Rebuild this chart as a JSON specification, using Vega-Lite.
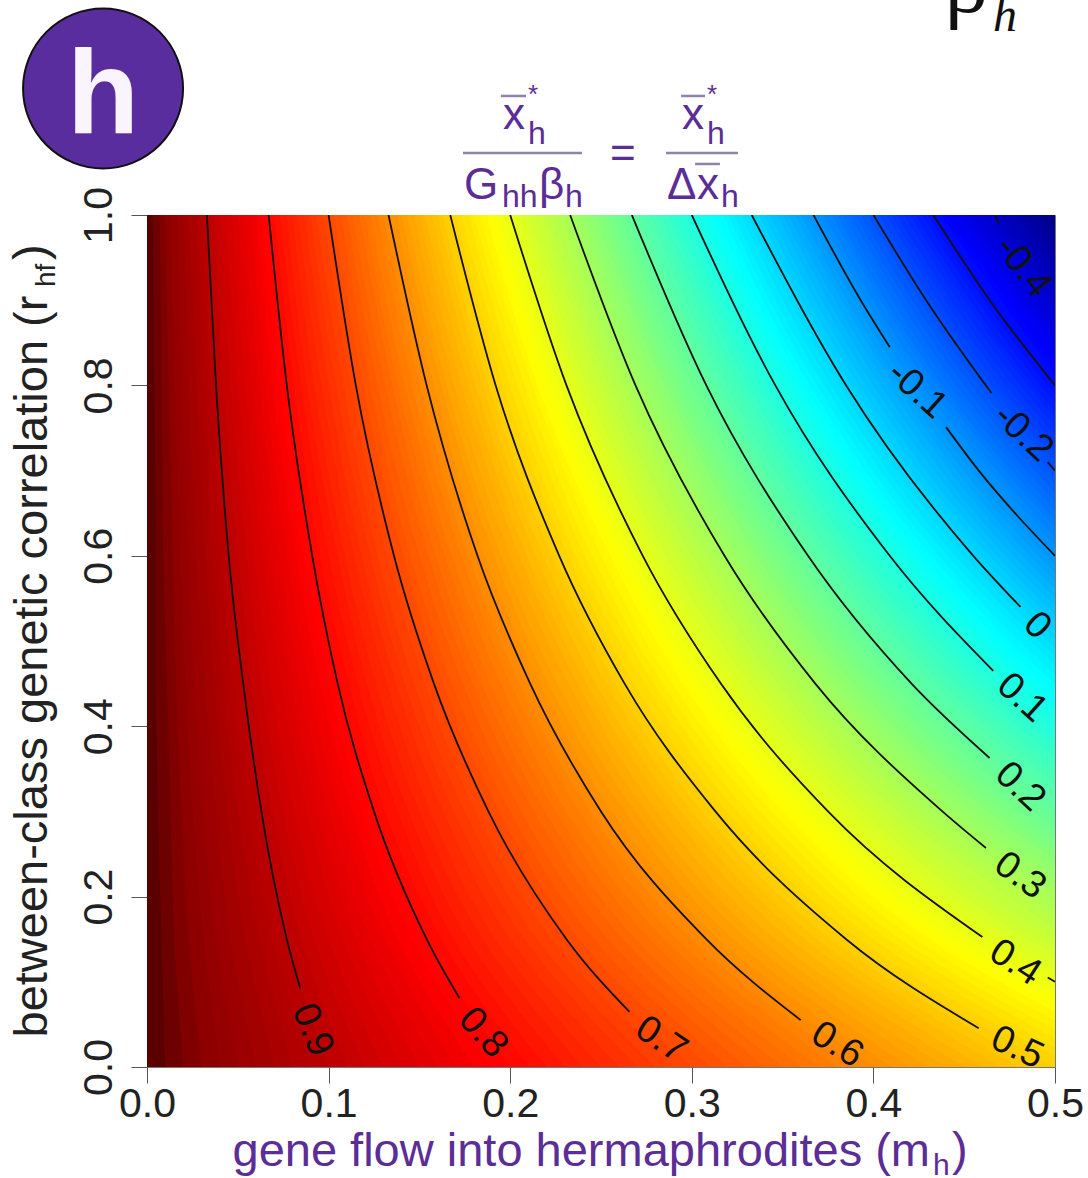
{"$schema":"https://vega.github.io/schema/vega-lite/v6.json","width":908,"height":852,"autosize":{"type":"none"},"padding":{"left":147,"top":215,"right":33,"bottom":111},"background":"white","config":{"font":"Liberation Sans","view":{"stroke":"#777777","strokeWidth":1}},
"datasets":{"fill":[
{"v":1,"r":0,"m":0},{"v":1,"r":1,"m":0},
{"v":0.99,"r":0,"m":0.01},{"v":0.99,"r":0.15,"m":0.008},{"v":0.99,"r":0.3,"m":0.006},{"v":0.99,"r":0.45,"m":0.005},{"v":0.99,"r":0.6,"m":0.005},{"v":0.99,"r":0.8,"m":0.004},{"v":0.99,"r":1,"m":0.003},
{"v":0.98,"r":0,"m":0.02},{"v":0.98,"r":0.15,"m":0.015},{"v":0.98,"r":0.3,"m":0.013},{"v":0.98,"r":0.45,"m":0.011},{"v":0.98,"r":0.6,"m":0.009},{"v":0.98,"r":0.8,"m":0.008},{"v":0.98,"r":1,"m":0.007},
{"v":0.97,"r":0,"m":0.03},{"v":0.97,"r":0.15,"m":0.023},{"v":0.97,"r":0.3,"m":0.019},{"v":0.97,"r":0.45,"m":0.016},{"v":0.97,"r":0.6,"m":0.014},{"v":0.97,"r":0.8,"m":0.012},{"v":0.97,"r":1,"m":0.01},
{"v":0.96,"r":0,"m":0.04},{"v":0.96,"r":0.15,"m":0.031},{"v":0.96,"r":0.3,"m":0.025},{"v":0.96,"r":0.45,"m":0.021},{"v":0.96,"r":0.6,"m":0.018},{"v":0.96,"r":0.8,"m":0.015},{"v":0.96,"r":1,"m":0.013},
{"v":0.95,"r":0,"m":0.05},{"v":0.95,"r":0.15,"m":0.038},{"v":0.95,"r":0.3,"m":0.031},{"v":0.95,"r":0.45,"m":0.026},{"v":0.95,"r":0.6,"m":0.023},{"v":0.95,"r":0.8,"m":0.019},{"v":0.95,"r":1,"m":0.017},
{"v":0.94,"r":0,"m":0.06},{"v":0.94,"r":0.15,"m":0.046},{"v":0.94,"r":0.3,"m":0.038},{"v":0.94,"r":0.45,"m":0.032},{"v":0.94,"r":0.6,"m":0.027},{"v":0.94,"r":0.8,"m":0.023},{"v":0.94,"r":1,"m":0.02},
{"v":0.93,"r":0,"m":0.07},{"v":0.93,"r":0.15,"m":0.054},{"v":0.93,"r":0.3,"m":0.044},{"v":0.93,"r":0.45,"m":0.037},{"v":0.93,"r":0.6,"m":0.032},{"v":0.93,"r":0.8,"m":0.027},{"v":0.93,"r":1,"m":0.023},
{"v":0.92,"r":0,"m":0.08},{"v":0.92,"r":0.15,"m":0.062},{"v":0.92,"r":0.3,"m":0.05},{"v":0.92,"r":0.45,"m":0.042},{"v":0.92,"r":0.6,"m":0.036},{"v":0.92,"r":0.8,"m":0.031},{"v":0.92,"r":1,"m":0.027},
{"v":0.91,"r":0,"m":0.09},{"v":0.91,"r":0.15,"m":0.069},{"v":0.91,"r":0.3,"m":0.056},{"v":0.91,"r":0.45,"m":0.047},{"v":0.91,"r":0.6,"m":0.041},{"v":0.91,"r":0.8,"m":0.035},{"v":0.91,"r":1,"m":0.03},
{"v":0.9,"r":0,"m":0.1},{"v":0.9,"r":0.15,"m":0.077},{"v":0.9,"r":0.3,"m":0.063},{"v":0.9,"r":0.45,"m":0.053},{"v":0.9,"r":0.6,"m":0.045},{"v":0.9,"r":0.8,"m":0.038},{"v":0.9,"r":1,"m":0.033},
{"v":0.89,"r":0,"m":0.11},{"v":0.89,"r":0.15,"m":0.085},{"v":0.89,"r":0.3,"m":0.069},{"v":0.89,"r":0.45,"m":0.058},{"v":0.89,"r":0.6,"m":0.05},{"v":0.89,"r":0.8,"m":0.042},{"v":0.89,"r":1,"m":0.037},
{"v":0.88,"r":0,"m":0.12},{"v":0.88,"r":0.15,"m":0.092},{"v":0.88,"r":0.3,"m":0.075},{"v":0.88,"r":0.45,"m":0.063},{"v":0.88,"r":0.6,"m":0.055},{"v":0.88,"r":0.8,"m":0.046},{"v":0.88,"r":1,"m":0.04},
{"v":0.87,"r":0,"m":0.13},{"v":0.87,"r":0.15,"m":0.1},{"v":0.87,"r":0.3,"m":0.081},{"v":0.87,"r":0.45,"m":0.068},{"v":0.87,"r":0.6,"m":0.059},{"v":0.87,"r":0.8,"m":0.05},{"v":0.87,"r":1,"m":0.043},
{"v":0.86,"r":0,"m":0.14},{"v":0.86,"r":0.15,"m":0.108},{"v":0.86,"r":0.3,"m":0.088},{"v":0.86,"r":0.45,"m":0.074},{"v":0.86,"r":0.6,"m":0.064},{"v":0.86,"r":0.8,"m":0.054},{"v":0.86,"r":1,"m":0.047},
{"v":0.85,"r":0,"m":0.15},{"v":0.85,"r":0.15,"m":0.115},{"v":0.85,"r":0.3,"m":0.094},{"v":0.85,"r":0.45,"m":0.079},{"v":0.85,"r":0.6,"m":0.068},{"v":0.85,"r":0.8,"m":0.058},{"v":0.85,"r":1,"m":0.05},
{"v":0.84,"r":0,"m":0.16},{"v":0.84,"r":0.15,"m":0.123},{"v":0.84,"r":0.3,"m":0.1},{"v":0.84,"r":0.45,"m":0.084},{"v":0.84,"r":0.6,"m":0.073},{"v":0.84,"r":0.8,"m":0.062},{"v":0.84,"r":1,"m":0.053},
{"v":0.83,"r":0,"m":0.17},{"v":0.83,"r":0.15,"m":0.131},{"v":0.83,"r":0.3,"m":0.106},{"v":0.83,"r":0.45,"m":0.089},{"v":0.83,"r":0.6,"m":0.077},{"v":0.83,"r":0.8,"m":0.065},{"v":0.83,"r":1,"m":0.057},
{"v":0.82,"r":0,"m":0.18},{"v":0.82,"r":0.15,"m":0.138},{"v":0.82,"r":0.3,"m":0.113},{"v":0.82,"r":0.45,"m":0.095},{"v":0.82,"r":0.6,"m":0.082},{"v":0.82,"r":0.8,"m":0.069},{"v":0.82,"r":1,"m":0.06},
{"v":0.81,"r":0,"m":0.19},{"v":0.81,"r":0.15,"m":0.146},{"v":0.81,"r":0.3,"m":0.119},{"v":0.81,"r":0.45,"m":0.1},{"v":0.81,"r":0.6,"m":0.086},{"v":0.81,"r":0.8,"m":0.073},{"v":0.81,"r":1,"m":0.063},
{"v":0.8,"r":0,"m":0.2},{"v":0.8,"r":0.15,"m":0.154},{"v":0.8,"r":0.3,"m":0.125},{"v":0.8,"r":0.45,"m":0.105},{"v":0.8,"r":0.6,"m":0.091},{"v":0.8,"r":0.8,"m":0.077},{"v":0.8,"r":1,"m":0.067},
{"v":0.79,"r":0,"m":0.21},{"v":0.79,"r":0.15,"m":0.162},{"v":0.79,"r":0.3,"m":0.131},{"v":0.79,"r":0.45,"m":0.111},{"v":0.79,"r":0.6,"m":0.095},{"v":0.79,"r":0.8,"m":0.081},{"v":0.79,"r":1,"m":0.07},
{"v":0.78,"r":0,"m":0.22},{"v":0.78,"r":0.15,"m":0.169},{"v":0.78,"r":0.3,"m":0.138},{"v":0.78,"r":0.45,"m":0.116},{"v":0.78,"r":0.6,"m":0.1},{"v":0.78,"r":0.8,"m":0.085},{"v":0.78,"r":1,"m":0.073},
{"v":0.77,"r":0,"m":0.23},{"v":0.77,"r":0.15,"m":0.177},{"v":0.77,"r":0.3,"m":0.144},{"v":0.77,"r":0.45,"m":0.121},{"v":0.77,"r":0.6,"m":0.105},{"v":0.77,"r":0.8,"m":0.088},{"v":0.77,"r":1,"m":0.077},
{"v":0.76,"r":0,"m":0.24},{"v":0.76,"r":0.15,"m":0.185},{"v":0.76,"r":0.3,"m":0.15},{"v":0.76,"r":0.45,"m":0.126},{"v":0.76,"r":0.6,"m":0.109},{"v":0.76,"r":0.8,"m":0.092},{"v":0.76,"r":1,"m":0.08},
{"v":0.75,"r":0,"m":0.25},{"v":0.75,"r":0.15,"m":0.192},{"v":0.75,"r":0.3,"m":0.156},{"v":0.75,"r":0.45,"m":0.132},{"v":0.75,"r":0.6,"m":0.114},{"v":0.75,"r":0.8,"m":0.096},{"v":0.75,"r":1,"m":0.083},
{"v":0.74,"r":0,"m":0.26},{"v":0.74,"r":0.15,"m":0.2},{"v":0.74,"r":0.3,"m":0.163},{"v":0.74,"r":0.45,"m":0.137},{"v":0.74,"r":0.6,"m":0.118},{"v":0.74,"r":0.8,"m":0.1},{"v":0.74,"r":1,"m":0.087},
{"v":0.73,"r":0,"m":0.27},{"v":0.73,"r":0.15,"m":0.208},{"v":0.73,"r":0.3,"m":0.169},{"v":0.73,"r":0.45,"m":0.142},{"v":0.73,"r":0.6,"m":0.123},{"v":0.73,"r":0.8,"m":0.104},{"v":0.73,"r":1,"m":0.09},
{"v":0.72,"r":0,"m":0.28},{"v":0.72,"r":0.15,"m":0.215},{"v":0.72,"r":0.3,"m":0.175},{"v":0.72,"r":0.45,"m":0.147},{"v":0.72,"r":0.6,"m":0.127},{"v":0.72,"r":0.8,"m":0.108},{"v":0.72,"r":1,"m":0.093},
{"v":0.71,"r":0,"m":0.29},{"v":0.71,"r":0.15,"m":0.223},{"v":0.71,"r":0.3,"m":0.181},{"v":0.71,"r":0.45,"m":0.153},{"v":0.71,"r":0.6,"m":0.132},{"v":0.71,"r":0.8,"m":0.112},{"v":0.71,"r":1,"m":0.097},
{"v":0.7,"r":0,"m":0.3},{"v":0.7,"r":0.15,"m":0.231},{"v":0.7,"r":0.3,"m":0.188},{"v":0.7,"r":0.45,"m":0.158},{"v":0.7,"r":0.6,"m":0.136},{"v":0.7,"r":0.8,"m":0.115},{"v":0.7,"r":1,"m":0.1},
{"v":0.69,"r":0,"m":0.31},{"v":0.69,"r":0.15,"m":0.238},{"v":0.69,"r":0.3,"m":0.194},{"v":0.69,"r":0.45,"m":0.163},{"v":0.69,"r":0.6,"m":0.141},{"v":0.69,"r":0.8,"m":0.119},{"v":0.69,"r":1,"m":0.103},
{"v":0.68,"r":0,"m":0.32},{"v":0.68,"r":0.15,"m":0.246},{"v":0.68,"r":0.3,"m":0.2},{"v":0.68,"r":0.45,"m":0.168},{"v":0.68,"r":0.6,"m":0.145},{"v":0.68,"r":0.8,"m":0.123},{"v":0.68,"r":1,"m":0.107},
{"v":0.67,"r":0,"m":0.33},{"v":0.67,"r":0.15,"m":0.254},{"v":0.67,"r":0.3,"m":0.206},{"v":0.67,"r":0.45,"m":0.174},{"v":0.67,"r":0.6,"m":0.15},{"v":0.67,"r":0.8,"m":0.127},{"v":0.67,"r":1,"m":0.11},
{"v":0.66,"r":0,"m":0.34},{"v":0.66,"r":0.15,"m":0.262},{"v":0.66,"r":0.3,"m":0.213},{"v":0.66,"r":0.45,"m":0.179},{"v":0.66,"r":0.6,"m":0.155},{"v":0.66,"r":0.8,"m":0.131},{"v":0.66,"r":1,"m":0.113},
{"v":0.65,"r":0,"m":0.35},{"v":0.65,"r":0.15,"m":0.269},{"v":0.65,"r":0.3,"m":0.219},{"v":0.65,"r":0.45,"m":0.184},{"v":0.65,"r":0.6,"m":0.159},{"v":0.65,"r":0.8,"m":0.135},{"v":0.65,"r":1,"m":0.117},
{"v":0.64,"r":0,"m":0.36},{"v":0.64,"r":0.15,"m":0.277},{"v":0.64,"r":0.3,"m":0.225},{"v":0.64,"r":0.45,"m":0.189},{"v":0.64,"r":0.6,"m":0.164},{"v":0.64,"r":0.8,"m":0.138},{"v":0.64,"r":1,"m":0.12},
{"v":0.63,"r":0,"m":0.37},{"v":0.63,"r":0.15,"m":0.285},{"v":0.63,"r":0.3,"m":0.231},{"v":0.63,"r":0.45,"m":0.195},{"v":0.63,"r":0.6,"m":0.168},{"v":0.63,"r":0.8,"m":0.142},{"v":0.63,"r":1,"m":0.123},
{"v":0.62,"r":0,"m":0.38},{"v":0.62,"r":0.15,"m":0.292},{"v":0.62,"r":0.3,"m":0.238},{"v":0.62,"r":0.45,"m":0.2},{"v":0.62,"r":0.6,"m":0.173},{"v":0.62,"r":0.8,"m":0.146},{"v":0.62,"r":1,"m":0.127},
{"v":0.61,"r":0,"m":0.39},{"v":0.61,"r":0.15,"m":0.3},{"v":0.61,"r":0.3,"m":0.244},{"v":0.61,"r":0.45,"m":0.205},{"v":0.61,"r":0.6,"m":0.177},{"v":0.61,"r":0.8,"m":0.15},{"v":0.61,"r":1,"m":0.13},
{"v":0.6,"r":0,"m":0.4},{"v":0.6,"r":0.15,"m":0.308},{"v":0.6,"r":0.3,"m":0.25},{"v":0.6,"r":0.45,"m":0.211},{"v":0.6,"r":0.6,"m":0.182},{"v":0.6,"r":0.8,"m":0.154},{"v":0.6,"r":1,"m":0.133},
{"v":0.59,"r":0,"m":0.41},{"v":0.59,"r":0.15,"m":0.315},{"v":0.59,"r":0.3,"m":0.256},{"v":0.59,"r":0.45,"m":0.216},{"v":0.59,"r":0.6,"m":0.186},{"v":0.59,"r":0.8,"m":0.158},{"v":0.59,"r":1,"m":0.137},
{"v":0.58,"r":0,"m":0.42},{"v":0.58,"r":0.15,"m":0.323},{"v":0.58,"r":0.3,"m":0.263},{"v":0.58,"r":0.45,"m":0.221},{"v":0.58,"r":0.6,"m":0.191},{"v":0.58,"r":0.8,"m":0.162},{"v":0.58,"r":1,"m":0.14},
{"v":0.57,"r":0,"m":0.43},{"v":0.57,"r":0.15,"m":0.331},{"v":0.57,"r":0.3,"m":0.269},{"v":0.57,"r":0.45,"m":0.226},{"v":0.57,"r":0.6,"m":0.195},{"v":0.57,"r":0.8,"m":0.165},{"v":0.57,"r":1,"m":0.143},
{"v":0.56,"r":0,"m":0.44},{"v":0.56,"r":0.15,"m":0.338},{"v":0.56,"r":0.3,"m":0.275},{"v":0.56,"r":0.45,"m":0.232},{"v":0.56,"r":0.6,"m":0.2},{"v":0.56,"r":0.8,"m":0.169},{"v":0.56,"r":1,"m":0.147},
{"v":0.55,"r":0,"m":0.45},{"v":0.55,"r":0.15,"m":0.346},{"v":0.55,"r":0.3,"m":0.281},{"v":0.55,"r":0.45,"m":0.237},{"v":0.55,"r":0.6,"m":0.205},{"v":0.55,"r":0.8,"m":0.173},{"v":0.55,"r":1,"m":0.15},
{"v":0.54,"r":0,"m":0.46},{"v":0.54,"r":0.15,"m":0.354},{"v":0.54,"r":0.3,"m":0.288},{"v":0.54,"r":0.45,"m":0.242},{"v":0.54,"r":0.6,"m":0.209},{"v":0.54,"r":0.8,"m":0.177},{"v":0.54,"r":1,"m":0.153},
{"v":0.53,"r":0,"m":0.47},{"v":0.53,"r":0.15,"m":0.362},{"v":0.53,"r":0.3,"m":0.294},{"v":0.53,"r":0.45,"m":0.247},{"v":0.53,"r":0.6,"m":0.214},{"v":0.53,"r":0.8,"m":0.181},{"v":0.53,"r":1,"m":0.157},
{"v":0.52,"r":0,"m":0.48},{"v":0.52,"r":0.15,"m":0.369},{"v":0.52,"r":0.3,"m":0.3},{"v":0.52,"r":0.45,"m":0.253},{"v":0.52,"r":0.6,"m":0.218},{"v":0.52,"r":0.8,"m":0.185},{"v":0.52,"r":1,"m":0.16},
{"v":0.51,"r":0,"m":0.49},{"v":0.51,"r":0.15,"m":0.377},{"v":0.51,"r":0.3,"m":0.306},{"v":0.51,"r":0.45,"m":0.258},{"v":0.51,"r":0.6,"m":0.223},{"v":0.51,"r":0.8,"m":0.188},{"v":0.51,"r":1,"m":0.163},
{"v":0.5,"r":0,"m":0.5},{"v":0.5,"r":0.15,"m":0.385},{"v":0.5,"r":0.3,"m":0.313},{"v":0.5,"r":0.45,"m":0.263},{"v":0.5,"r":0.6,"m":0.227},{"v":0.5,"r":0.8,"m":0.192},{"v":0.5,"r":1,"m":0.167},
{"v":0.49,"r":0,"m":0.51},{"v":0.49,"r":0.15,"m":0.392},{"v":0.49,"r":0.3,"m":0.319},{"v":0.49,"r":0.45,"m":0.268},{"v":0.49,"r":0.6,"m":0.232},{"v":0.49,"r":0.8,"m":0.196},{"v":0.49,"r":1,"m":0.17},
{"v":0.48,"r":0,"m":0.52},{"v":0.48,"r":0.15,"m":0.4},{"v":0.48,"r":0.3,"m":0.325},{"v":0.48,"r":0.45,"m":0.274},{"v":0.48,"r":0.6,"m":0.236},{"v":0.48,"r":0.8,"m":0.2},{"v":0.48,"r":1,"m":0.173},
{"v":0.47,"r":0,"m":0.53},{"v":0.47,"r":0.15,"m":0.408},{"v":0.47,"r":0.3,"m":0.331},{"v":0.47,"r":0.45,"m":0.279},{"v":0.47,"r":0.6,"m":0.241},{"v":0.47,"r":0.8,"m":0.204},{"v":0.47,"r":1,"m":0.177},
{"v":0.46,"r":0,"m":0.54},{"v":0.46,"r":0.15,"m":0.415},{"v":0.46,"r":0.3,"m":0.338},{"v":0.46,"r":0.45,"m":0.284},{"v":0.46,"r":0.6,"m":0.245},{"v":0.46,"r":0.8,"m":0.208},{"v":0.46,"r":1,"m":0.18},
{"v":0.45,"r":0,"m":0.55},{"v":0.45,"r":0.15,"m":0.423},{"v":0.45,"r":0.3,"m":0.344},{"v":0.45,"r":0.45,"m":0.289},{"v":0.45,"r":0.6,"m":0.25},{"v":0.45,"r":0.8,"m":0.212},{"v":0.45,"r":1,"m":0.183},
{"v":0.44,"r":0,"m":0.56},{"v":0.44,"r":0.15,"m":0.431},{"v":0.44,"r":0.3,"m":0.35},{"v":0.44,"r":0.45,"m":0.295},{"v":0.44,"r":0.6,"m":0.255},{"v":0.44,"r":0.8,"m":0.215},{"v":0.44,"r":1,"m":0.187},
{"v":0.43,"r":0,"m":0.57},{"v":0.43,"r":0.15,"m":0.438},{"v":0.43,"r":0.3,"m":0.356},{"v":0.43,"r":0.45,"m":0.3},{"v":0.43,"r":0.6,"m":0.259},{"v":0.43,"r":0.8,"m":0.219},{"v":0.43,"r":1,"m":0.19},
{"v":0.42,"r":0,"m":0.58},{"v":0.42,"r":0.15,"m":0.446},{"v":0.42,"r":0.3,"m":0.363},{"v":0.42,"r":0.45,"m":0.305},{"v":0.42,"r":0.6,"m":0.264},{"v":0.42,"r":0.8,"m":0.223},{"v":0.42,"r":1,"m":0.193},
{"v":0.41,"r":0,"m":0.59},{"v":0.41,"r":0.15,"m":0.454},{"v":0.41,"r":0.3,"m":0.369},{"v":0.41,"r":0.45,"m":0.311},{"v":0.41,"r":0.6,"m":0.268},{"v":0.41,"r":0.8,"m":0.227},{"v":0.41,"r":1,"m":0.197},
{"v":0.4,"r":0,"m":0.6},{"v":0.4,"r":0.15,"m":0.462},{"v":0.4,"r":0.3,"m":0.375},{"v":0.4,"r":0.45,"m":0.316},{"v":0.4,"r":0.6,"m":0.273},{"v":0.4,"r":0.8,"m":0.231},{"v":0.4,"r":1,"m":0.2},
{"v":0.39,"r":0,"m":0.61},{"v":0.39,"r":0.15,"m":0.469},{"v":0.39,"r":0.3,"m":0.381},{"v":0.39,"r":0.45,"m":0.321},{"v":0.39,"r":0.6,"m":0.277},{"v":0.39,"r":0.8,"m":0.235},{"v":0.39,"r":1,"m":0.203},
{"v":0.38,"r":0,"m":0.62},{"v":0.38,"r":0.15,"m":0.477},{"v":0.38,"r":0.3,"m":0.388},{"v":0.38,"r":0.45,"m":0.326},{"v":0.38,"r":0.6,"m":0.282},{"v":0.38,"r":0.8,"m":0.238},{"v":0.38,"r":1,"m":0.207},
{"v":0.37,"r":0,"m":0.63},{"v":0.37,"r":0.15,"m":0.485},{"v":0.37,"r":0.3,"m":0.394},{"v":0.37,"r":0.45,"m":0.332},{"v":0.37,"r":0.6,"m":0.286},{"v":0.37,"r":0.8,"m":0.242},{"v":0.37,"r":1,"m":0.21},
{"v":0.36,"r":0,"m":0.64},{"v":0.36,"r":0.15,"m":0.492},{"v":0.36,"r":0.3,"m":0.4},{"v":0.36,"r":0.45,"m":0.337},{"v":0.36,"r":0.6,"m":0.291},{"v":0.36,"r":0.8,"m":0.246},{"v":0.36,"r":1,"m":0.213},
{"v":0.35,"r":0,"m":0.65},{"v":0.35,"r":0.15,"m":0.5},{"v":0.35,"r":0.3,"m":0.406},{"v":0.35,"r":0.45,"m":0.342},{"v":0.35,"r":0.6,"m":0.295},{"v":0.35,"r":0.8,"m":0.25},{"v":0.35,"r":1,"m":0.217},
{"v":0.34,"r":0.15,"m":0.508},{"v":0.34,"r":0.3,"m":0.413},{"v":0.34,"r":0.45,"m":0.347},{"v":0.34,"r":0.6,"m":0.3},{"v":0.34,"r":0.8,"m":0.254},{"v":0.34,"r":1,"m":0.22},
{"v":0.33,"r":0.15,"m":0.515},{"v":0.33,"r":0.3,"m":0.419},{"v":0.33,"r":0.45,"m":0.353},{"v":0.33,"r":0.6,"m":0.305},{"v":0.33,"r":0.8,"m":0.258},{"v":0.33,"r":1,"m":0.223},
{"v":0.32,"r":0.15,"m":0.523},{"v":0.32,"r":0.3,"m":0.425},{"v":0.32,"r":0.45,"m":0.358},{"v":0.32,"r":0.6,"m":0.309},{"v":0.32,"r":0.8,"m":0.262},{"v":0.32,"r":1,"m":0.227},
{"v":0.31,"r":0.15,"m":0.531},{"v":0.31,"r":0.3,"m":0.431},{"v":0.31,"r":0.45,"m":0.363},{"v":0.31,"r":0.6,"m":0.314},{"v":0.31,"r":0.8,"m":0.265},{"v":0.31,"r":1,"m":0.23},
{"v":0.3,"r":0.15,"m":0.538},{"v":0.3,"r":0.3,"m":0.438},{"v":0.3,"r":0.45,"m":0.368},{"v":0.3,"r":0.6,"m":0.318},{"v":0.3,"r":0.8,"m":0.269},{"v":0.3,"r":1,"m":0.233},
{"v":0.29,"r":0.15,"m":0.546},{"v":0.29,"r":0.3,"m":0.444},{"v":0.29,"r":0.45,"m":0.374},{"v":0.29,"r":0.6,"m":0.323},{"v":0.29,"r":0.8,"m":0.273},{"v":0.29,"r":1,"m":0.237},
{"v":0.28,"r":0.15,"m":0.554},{"v":0.28,"r":0.3,"m":0.45},{"v":0.28,"r":0.45,"m":0.379},{"v":0.28,"r":0.6,"m":0.327},{"v":0.28,"r":0.8,"m":0.277},{"v":0.28,"r":1,"m":0.24},
{"v":0.27,"r":0.15,"m":0.562},{"v":0.27,"r":0.3,"m":0.456},{"v":0.27,"r":0.45,"m":0.384},{"v":0.27,"r":0.6,"m":0.332},{"v":0.27,"r":0.8,"m":0.281},{"v":0.27,"r":1,"m":0.243},
{"v":0.26,"r":0.15,"m":0.569},{"v":0.26,"r":0.3,"m":0.463},{"v":0.26,"r":0.45,"m":0.389},{"v":0.26,"r":0.6,"m":0.336},{"v":0.26,"r":0.8,"m":0.285},{"v":0.26,"r":1,"m":0.247},
{"v":0.25,"r":0.15,"m":0.577},{"v":0.25,"r":0.3,"m":0.469},{"v":0.25,"r":0.45,"m":0.395},{"v":0.25,"r":0.6,"m":0.341},{"v":0.25,"r":0.8,"m":0.288},{"v":0.25,"r":1,"m":0.25},
{"v":0.24,"r":0.15,"m":0.585},{"v":0.24,"r":0.3,"m":0.475},{"v":0.24,"r":0.45,"m":0.4},{"v":0.24,"r":0.6,"m":0.345},{"v":0.24,"r":0.8,"m":0.292},{"v":0.24,"r":1,"m":0.253},
{"v":0.23,"r":0.15,"m":0.592},{"v":0.23,"r":0.3,"m":0.481},{"v":0.23,"r":0.45,"m":0.405},{"v":0.23,"r":0.6,"m":0.35},{"v":0.23,"r":0.8,"m":0.296},{"v":0.23,"r":1,"m":0.257},
{"v":0.22,"r":0.15,"m":0.6},{"v":0.22,"r":0.3,"m":0.488},{"v":0.22,"r":0.45,"m":0.411},{"v":0.22,"r":0.6,"m":0.355},{"v":0.22,"r":0.8,"m":0.3},{"v":0.22,"r":1,"m":0.26},
{"v":0.21,"r":0.15,"m":0.608},{"v":0.21,"r":0.3,"m":0.494},{"v":0.21,"r":0.45,"m":0.416},{"v":0.21,"r":0.6,"m":0.359},{"v":0.21,"r":0.8,"m":0.304},{"v":0.21,"r":1,"m":0.263},
{"v":0.2,"r":0.15,"m":0.615},{"v":0.2,"r":0.3,"m":0.5},{"v":0.2,"r":0.45,"m":0.421},{"v":0.2,"r":0.6,"m":0.364},{"v":0.2,"r":0.8,"m":0.308},{"v":0.2,"r":1,"m":0.267},
{"v":0.19,"r":0.3,"m":0.506},{"v":0.19,"r":0.45,"m":0.426},{"v":0.19,"r":0.6,"m":0.368},{"v":0.19,"r":0.8,"m":0.312},{"v":0.19,"r":1,"m":0.27},
{"v":0.18,"r":0.3,"m":0.513},{"v":0.18,"r":0.45,"m":0.432},{"v":0.18,"r":0.6,"m":0.373},{"v":0.18,"r":0.8,"m":0.315},{"v":0.18,"r":1,"m":0.273},
{"v":0.17,"r":0.3,"m":0.519},{"v":0.17,"r":0.45,"m":0.437},{"v":0.17,"r":0.6,"m":0.377},{"v":0.17,"r":0.8,"m":0.319},{"v":0.17,"r":1,"m":0.277},
{"v":0.16,"r":0.3,"m":0.525},{"v":0.16,"r":0.45,"m":0.442},{"v":0.16,"r":0.6,"m":0.382},{"v":0.16,"r":0.8,"m":0.323},{"v":0.16,"r":1,"m":0.28},
{"v":0.15,"r":0.3,"m":0.531},{"v":0.15,"r":0.45,"m":0.447},{"v":0.15,"r":0.6,"m":0.386},{"v":0.15,"r":0.8,"m":0.327},{"v":0.15,"r":1,"m":0.283},
{"v":0.14,"r":0.3,"m":0.538},{"v":0.14,"r":0.45,"m":0.453},{"v":0.14,"r":0.6,"m":0.391},{"v":0.14,"r":0.8,"m":0.331},{"v":0.14,"r":1,"m":0.287},
{"v":0.13,"r":0.3,"m":0.544},{"v":0.13,"r":0.45,"m":0.458},{"v":0.13,"r":0.6,"m":0.395},{"v":0.13,"r":0.8,"m":0.335},{"v":0.13,"r":1,"m":0.29},
{"v":0.12,"r":0.3,"m":0.55},{"v":0.12,"r":0.45,"m":0.463},{"v":0.12,"r":0.6,"m":0.4},{"v":0.12,"r":0.8,"m":0.338},{"v":0.12,"r":1,"m":0.293},
{"v":0.11,"r":0.3,"m":0.556},{"v":0.11,"r":0.45,"m":0.468},{"v":0.11,"r":0.6,"m":0.405},{"v":0.11,"r":0.8,"m":0.342},{"v":0.11,"r":1,"m":0.297},
{"v":0.1,"r":0.3,"m":0.563},{"v":0.1,"r":0.45,"m":0.474},{"v":0.1,"r":0.6,"m":0.409},{"v":0.1,"r":0.8,"m":0.346},{"v":0.1,"r":1,"m":0.3},
{"v":0.09,"r":0.3,"m":0.569},{"v":0.09,"r":0.45,"m":0.479},{"v":0.09,"r":0.6,"m":0.414},{"v":0.09,"r":0.8,"m":0.35},{"v":0.09,"r":1,"m":0.303},
{"v":0.08,"r":0.3,"m":0.575},{"v":0.08,"r":0.45,"m":0.484},{"v":0.08,"r":0.6,"m":0.418},{"v":0.08,"r":0.8,"m":0.354},{"v":0.08,"r":1,"m":0.307},
{"v":0.07,"r":0.3,"m":0.581},{"v":0.07,"r":0.45,"m":0.489},{"v":0.07,"r":0.6,"m":0.423},{"v":0.07,"r":0.8,"m":0.358},{"v":0.07,"r":1,"m":0.31},
{"v":0.06,"r":0.3,"m":0.588},{"v":0.06,"r":0.45,"m":0.495},{"v":0.06,"r":0.6,"m":0.427},{"v":0.06,"r":0.8,"m":0.362},{"v":0.06,"r":1,"m":0.313},
{"v":0.05,"r":0.3,"m":0.594},{"v":0.05,"r":0.45,"m":0.5},{"v":0.05,"r":0.6,"m":0.432},{"v":0.05,"r":0.8,"m":0.365},{"v":0.05,"r":1,"m":0.317},
{"v":0.04,"r":0.45,"m":0.505},{"v":0.04,"r":0.6,"m":0.436},{"v":0.04,"r":0.8,"m":0.369},{"v":0.04,"r":1,"m":0.32},
{"v":0.03,"r":0.45,"m":0.511},{"v":0.03,"r":0.6,"m":0.441},{"v":0.03,"r":0.8,"m":0.373},{"v":0.03,"r":1,"m":0.323},
{"v":0.02,"r":0.45,"m":0.516},{"v":0.02,"r":0.6,"m":0.445},{"v":0.02,"r":0.8,"m":0.377},{"v":0.02,"r":1,"m":0.327},
{"v":0.01,"r":0.45,"m":0.521},{"v":0.01,"r":0.6,"m":0.45},{"v":0.01,"r":0.8,"m":0.381},{"v":0.01,"r":1,"m":0.33},
{"v":0,"r":0.45,"m":0.526},{"v":0,"r":0.6,"m":0.455},{"v":0,"r":0.8,"m":0.385},{"v":0,"r":1,"m":0.333},
{"v":-0.01,"r":0.45,"m":0.532},{"v":-0.01,"r":0.6,"m":0.459},{"v":-0.01,"r":0.8,"m":0.388},{"v":-0.01,"r":1,"m":0.337},
{"v":-0.02,"r":0.45,"m":0.537},{"v":-0.02,"r":0.6,"m":0.464},{"v":-0.02,"r":0.8,"m":0.392},{"v":-0.02,"r":1,"m":0.34},
{"v":-0.03,"r":0.45,"m":0.542},{"v":-0.03,"r":0.6,"m":0.468},{"v":-0.03,"r":0.8,"m":0.396},{"v":-0.03,"r":1,"m":0.343},
{"v":-0.04,"r":0.45,"m":0.547},{"v":-0.04,"r":0.6,"m":0.473},{"v":-0.04,"r":0.8,"m":0.4},{"v":-0.04,"r":1,"m":0.347},
{"v":-0.05,"r":0.45,"m":0.553},{"v":-0.05,"r":0.6,"m":0.477},{"v":-0.05,"r":0.8,"m":0.404},{"v":-0.05,"r":1,"m":0.35},
{"v":-0.06,"r":0.45,"m":0.558},{"v":-0.06,"r":0.6,"m":0.482},{"v":-0.06,"r":0.8,"m":0.408},{"v":-0.06,"r":1,"m":0.353},
{"v":-0.07,"r":0.45,"m":0.563},{"v":-0.07,"r":0.6,"m":0.486},{"v":-0.07,"r":0.8,"m":0.412},{"v":-0.07,"r":1,"m":0.357},
{"v":-0.08,"r":0.45,"m":0.568},{"v":-0.08,"r":0.6,"m":0.491},{"v":-0.08,"r":0.8,"m":0.415},{"v":-0.08,"r":1,"m":0.36},
{"v":-0.09,"r":0.45,"m":0.574},{"v":-0.09,"r":0.6,"m":0.495},{"v":-0.09,"r":0.8,"m":0.419},{"v":-0.09,"r":1,"m":0.363},
{"v":-0.1,"r":0.45,"m":0.579},{"v":-0.1,"r":0.6,"m":0.5},{"v":-0.1,"r":0.8,"m":0.423},{"v":-0.1,"r":1,"m":0.367},
{"v":-0.11,"r":0.6,"m":0.505},{"v":-0.11,"r":0.8,"m":0.427},{"v":-0.11,"r":1,"m":0.37},
{"v":-0.12,"r":0.6,"m":0.509},{"v":-0.12,"r":0.8,"m":0.431},{"v":-0.12,"r":1,"m":0.373},
{"v":-0.13,"r":0.6,"m":0.514},{"v":-0.13,"r":0.8,"m":0.435},{"v":-0.13,"r":1,"m":0.377},
{"v":-0.14,"r":0.6,"m":0.518},{"v":-0.14,"r":0.8,"m":0.438},{"v":-0.14,"r":1,"m":0.38},
{"v":-0.15,"r":0.6,"m":0.523},{"v":-0.15,"r":0.8,"m":0.442},{"v":-0.15,"r":1,"m":0.383},
{"v":-0.16,"r":0.6,"m":0.527},{"v":-0.16,"r":0.8,"m":0.446},{"v":-0.16,"r":1,"m":0.387},
{"v":-0.17,"r":0.6,"m":0.532},{"v":-0.17,"r":0.8,"m":0.45},{"v":-0.17,"r":1,"m":0.39},
{"v":-0.18,"r":0.6,"m":0.536},{"v":-0.18,"r":0.8,"m":0.454},{"v":-0.18,"r":1,"m":0.393},
{"v":-0.19,"r":0.6,"m":0.541},{"v":-0.19,"r":0.8,"m":0.458},{"v":-0.19,"r":1,"m":0.397},
{"v":-0.2,"r":0.6,"m":0.545},{"v":-0.2,"r":0.8,"m":0.462},{"v":-0.2,"r":1,"m":0.4},
{"v":-0.21,"r":0.6,"m":0.55},{"v":-0.21,"r":0.8,"m":0.465},{"v":-0.21,"r":1,"m":0.403},
{"v":-0.22,"r":0.6,"m":0.555},{"v":-0.22,"r":0.8,"m":0.469},{"v":-0.22,"r":1,"m":0.407},
{"v":-0.23,"r":0.6,"m":0.559},{"v":-0.23,"r":0.8,"m":0.473},{"v":-0.23,"r":1,"m":0.41},
{"v":-0.24,"r":0.6,"m":0.564},{"v":-0.24,"r":0.8,"m":0.477},{"v":-0.24,"r":1,"m":0.413},
{"v":-0.25,"r":0.6,"m":0.568},{"v":-0.25,"r":0.8,"m":0.481},{"v":-0.25,"r":1,"m":0.417},
{"v":-0.26,"r":0.6,"m":0.573},{"v":-0.26,"r":0.8,"m":0.485},{"v":-0.26,"r":1,"m":0.42},
{"v":-0.27,"r":0.6,"m":0.577},{"v":-0.27,"r":0.8,"m":0.488},{"v":-0.27,"r":1,"m":0.423},
{"v":-0.28,"r":0.6,"m":0.582},{"v":-0.28,"r":0.8,"m":0.492},{"v":-0.28,"r":1,"m":0.427},
{"v":-0.29,"r":0.6,"m":0.586},{"v":-0.29,"r":0.8,"m":0.496},{"v":-0.29,"r":1,"m":0.43},
{"v":-0.3,"r":0.6,"m":0.591},{"v":-0.3,"r":0.8,"m":0.5},{"v":-0.3,"r":1,"m":0.433},
{"v":-0.31,"r":0.8,"m":0.504},{"v":-0.31,"r":1,"m":0.437},
{"v":-0.32,"r":0.8,"m":0.508},{"v":-0.32,"r":1,"m":0.44},
{"v":-0.33,"r":0.8,"m":0.512},{"v":-0.33,"r":1,"m":0.443},
{"v":-0.34,"r":0.8,"m":0.515},{"v":-0.34,"r":1,"m":0.447},
{"v":-0.35,"r":0.8,"m":0.519},{"v":-0.35,"r":1,"m":0.45},
{"v":-0.36,"r":0.8,"m":0.523},{"v":-0.36,"r":1,"m":0.453},
{"v":-0.37,"r":0.8,"m":0.527},{"v":-0.37,"r":1,"m":0.457},
{"v":-0.38,"r":0.8,"m":0.531},{"v":-0.38,"r":1,"m":0.46},
{"v":-0.39,"r":0.8,"m":0.535},{"v":-0.39,"r":1,"m":0.463},
{"v":-0.4,"r":0.8,"m":0.538},{"v":-0.4,"r":1,"m":0.467},
{"v":-0.41,"r":0.8,"m":0.542},{"v":-0.41,"r":1,"m":0.47},
{"v":-0.42,"r":0.8,"m":0.546},{"v":-0.42,"r":1,"m":0.473},
{"v":-0.43,"r":0.8,"m":0.55},{"v":-0.43,"r":1,"m":0.477},
{"v":-0.44,"r":0.8,"m":0.554},{"v":-0.44,"r":1,"m":0.48},
{"v":-0.45,"r":0.8,"m":0.558},{"v":-0.45,"r":1,"m":0.483},
{"v":-0.46,"r":0.8,"m":0.562},{"v":-0.46,"r":1,"m":0.487},
{"v":-0.47,"r":0.8,"m":0.565},{"v":-0.47,"r":1,"m":0.49},
{"v":-0.48,"r":0.8,"m":0.569},{"v":-0.48,"r":1,"m":0.493},
{"v":-0.49,"r":0.8,"m":0.573},{"v":-0.49,"r":1,"m":0.497},
{"v":-0.5,"r":0.8,"m":0.577},{"v":-0.5,"r":1,"m":0.5}
],
"lines":[
{"s":"0.9","r":1,"m":0.033},{"s":"0.9","r":0.8,"m":0.038},{"s":"0.9","r":0.6,"m":0.045},{"s":"0.9","r":0.45,"m":0.053},{"s":"0.9","r":0.3,"m":0.063},{"s":"0.9","r":0.15,"m":0.077},{"s":"0.9","r":0.0925,"m":0.0844},
{"s":"0.8","r":1,"m":0.067},{"s":"0.8","r":0.8,"m":0.077},{"s":"0.8","r":0.6,"m":0.091},{"s":"0.8","r":0.45,"m":0.105},{"s":"0.8","r":0.3,"m":0.125},{"s":"0.8","r":0.15,"m":0.154},{"s":"0.8","r":0.081,"m":0.172},
{"s":"0.7","r":1,"m":0.1},{"s":"0.7","r":0.8,"m":0.115},{"s":"0.7","r":0.6,"m":0.136},{"s":"0.7","r":0.45,"m":0.158},{"s":"0.7","r":0.3,"m":0.188},{"s":"0.7","r":0.15,"m":0.231},{"s":"0.7","r":0.0646,"m":0.2657},
{"s":"0.6","r":1,"m":0.133},{"s":"0.6","r":0.8,"m":0.154},{"s":"0.6","r":0.6,"m":0.182},{"s":"0.6","r":0.45,"m":0.211},{"s":"0.6","r":0.3,"m":0.25},{"s":"0.6","r":0.15,"m":0.308},{"s":"0.6","r":0.055,"m":0.36},
{"s":"0.5","r":1,"m":0.167},{"s":"0.5","r":0.8,"m":0.192},{"s":"0.5","r":0.6,"m":0.227},{"s":"0.5","r":0.45,"m":0.263},{"s":"0.5","r":0.3,"m":0.313},{"s":"0.5","r":0.15,"m":0.385},{"s":"0.5","r":0.0455,"m":0.458},
{"s":"0.4","r":1,"m":0.2},{"s":"0.4","r":0.8,"m":0.231},{"s":"0.4","r":0.6,"m":0.273},{"s":"0.4","r":0.45,"m":0.316},{"s":"0.4","r":0.3,"m":0.375},{"s":"0.4","r":0.1526,"m":0.46},
{"s":"0.4b","r":0.105,"m":0.496},{"s":"0.4b","r":0.1,"m":0.5},
{"s":"0.3","r":1,"m":0.233},{"s":"0.3","r":0.8,"m":0.269},{"s":"0.3","r":0.6,"m":0.318},{"s":"0.3","r":0.45,"m":0.368},{"s":"0.3","r":0.3,"m":0.438},{"s":"0.3","r":0.257,"m":0.462},
{"s":"0.2","r":1,"m":0.267},{"s":"0.2","r":0.8,"m":0.308},{"s":"0.2","r":0.6,"m":0.364},{"s":"0.2","r":0.45,"m":0.421},{"s":"0.2","r":0.3627,"m":0.464},
{"s":"0.1","r":1,"m":0.3},{"s":"0.1","r":0.8,"m":0.346},{"s":"0.1","r":0.6,"m":0.409},{"s":"0.1","r":0.465,"m":0.466},
{"s":"0","r":1,"m":0.333},{"s":"0","r":0.8,"m":0.385},{"s":"0","r":0.6,"m":0.455},{"s":"0","r":0.54,"m":0.481},
{"s":"-0.1","r":1,"m":0.367},{"s":"-0.1","r":0.9,"m":0.393},{"s":"-0.1","r":0.845,"m":0.409},
{"s":"-0.1b","r":0.751,"m":0.44},{"s":"-0.1b","r":0.7,"m":0.458},{"s":"-0.1b","r":0.65,"m":0.478},{"s":"-0.1b","r":0.6,"m":0.5},
{"s":"-0.2","r":1,"m":0.4},{"s":"-0.2","r":0.9,"m":0.429},{"s":"-0.2","r":0.791,"m":0.465},
{"s":"-0.2b","r":0.71,"m":0.496},{"s":"-0.2b","r":0.7,"m":0.5},
{"s":"-0.3","r":1,"m":0.433},{"s":"-0.3","r":0.9,"m":0.464},{"s":"-0.3","r":0.8,"m":0.5},
{"s":"-0.4","r":1,"m":0.467},{"s":"-0.4","r":0.99,"m":0.469}
]},
"encoding":{
"x":{"field":"m","type":"quantitative","scale":{"domain":[0,0.5],"nice":false,"zero":false},"axis":{"values":[0,0.1,0.2,0.3,0.4,0.5],"format":".1f","grid":false,"domain":false,"tickSize":16,"tickColor":"#555555","tickWidth":1,"labelFontSize":41,"labelColor":"#222222","labelPadding":1,"labelFlush":false,"labelOverlap":false,"title":"gene flow into hermaphrodites (m","titleFontSize":47,"titleFontWeight":"normal","titleColor":"#5b2d96","titleAlign":"left","titleAnchor":"start","titleBaseline":"alphabetic","titleX":85,"titleY":98}},
"y":{"field":"r","type":"quantitative","scale":{"domain":[0,1],"nice":false,"zero":false},"axis":{"values":[0,0.2,0.4,0.6,0.8,1],"format":".1f","grid":false,"domain":false,"tickSize":16,"tickColor":"#555555","tickWidth":1,"labelFontSize":41,"labelColor":"#222222","labelAngle":-90,"labelAlign":"center","labelBaseline":"bottom","labelPadding":11,"labelFlush":false,"labelOverlap":false,"title":"between-class genetic correlation (r","titleFontSize":47,"titleFontWeight":"normal","titleColor":"#222222","titleAlign":"left","titleAnchor":"start","titleBaseline":"alphabetic","titleAngle":-90,"titleX":-101,"titleY":822}}
},
"layer":[
{"data":{"name":"fill"},"mark":{"type":"area","orient":"horizontal","clip":true,"interpolate":"monotone"},"encoding":{"x2":{"datum":0.5},"detail":{"field":"v","type":"quantitative"},"color":{"field":"v","type":"quantitative","legend":null,"scale":{"domain":[-0.5,-0.3125,0.0625,0.25,0.4375,0.625,0.8125,0.975,1],"range":["#00007f","#0000ff","#00ffff","#7fff7f","#ffff00","#ff7f00","#ff0000","#8a0000","#5a0000"],"interpolate":"rgb"}}}},
{"data":{"name":"lines"},"mark":{"type":"line","clip":true,"interpolate":"monotone","stroke":"#111111","strokeWidth":1.8},"encoding":{"detail":{"field":"s","type":"nominal"},"order":{"field":"m","type":"quantitative"}}},
{"data":{"values":[
{"t":"0.9","m":0.0909,"r":0.0434,"a":67},{"t":"0.8","m":0.185,"r":0.0399,"a":48},{"t":"0.7","m":0.283,"r":0.0317,"a":34},{"t":"0.6","m":0.38,"r":0.0258,"a":32},{"t":"0.5","m":0.4791,"r":0.0223,"a":25},{"t":"0.4","m":0.478,"r":0.1221,"a":33},{"t":"0.3","m":0.4807,"r":0.2242,"a":36},{"t":"0.2","m":0.4807,"r":0.3286,"a":43},{"t":"0.1","m":0.4818,"r":0.4331,"a":42},{"t":"0","m":0.4901,"r":0.5176,"a":45},{"t":"-0.1","m":0.424,"r":0.7946,"a":42},{"t":"-0.2","m":0.4824,"r":0.7441,"a":43},{"t":"-0.4","m":0.4824,"r":0.939,"a":52}
]},"mark":{"type":"text","fontSize":38,"align":"center","baseline":"middle","color":"#111111","clip":true},"encoding":{"text":{"field":"t"},"angle":{"field":"a","type":"quantitative","scale":null}}},
{"data":{"values":[{"m":-0.0242,"r":1.1485}]},"mark":{"type":"circle","opacity":1},"encoding":{"size":{"value":25600},"color":{"value":"#5a2d9e"},"stroke":{"value":"#111111"},"strokeWidth":{"value":2}}},
{"data":{"values":[{"t":"h","m":-0.0242,"r":1.0962}]},"mark":{"type":"text","fontSize":118,"fontWeight":"bold","align":"center","baseline":"alphabetic","color":"#faf4ff"},"encoding":{"text":{"field":"t"}}},
{"data":{"values":[
{"m":0.174,"m2":0.2395,"r":1.0728},{"m":0.2858,"m2":0.3254,"r":1.0728},{"m":0.1949,"m2":0.2087,"r":1.1397},{"m":0.2941,"m2":0.3073,"r":1.1397},{"m":0.3018,"m2":0.3155,"r":1.0599}
]},"mark":{"type":"rule","stroke":"#8f82ad","strokeWidth":2.5},"encoding":{"x2":{"field":"m2"}}},
{"data":{"values":[
{"t":"x","m":0.196,"r":1.101},{"t":"G","m":0.1746,"r":1.0188},{"t":"β","m":0.2159,"r":1.0188},{"t":"=","m":0.255,"r":1.0552},{"t":"x","m":0.2946,"r":1.101},{"t":"Δ","m":0.2863,"r":1.0188},{"t":"x","m":0.3029,"r":1.0188},{"t":")","m":0.4433,"r":-0.1155}
]},"transform":[{"filter":"datum.t != ')'"}],"mark":{"type":"text","fontSize":44,"align":"left","baseline":"alphabetic","color":"#5b2d96"},"encoding":{"text":{"field":"t"}}},
{"data":{"values":[
{"t":"h","m":0.2098,"r":1.0833},{"t":"hh","m":0.1955,"r":1.0094},{"t":"h","m":0.2302,"r":1.0094},{"t":"h","m":0.3084,"r":1.0833},{"t":"h","m":0.3161,"r":1.0094}
]},"mark":{"type":"text","fontSize":32,"align":"left","baseline":"alphabetic","color":"#5b2d96"},"encoding":{"text":{"field":"t"}}},
{"data":{"values":[{"t":"*","m":0.2098,"r":1.1315},{"t":"*","m":0.3084,"r":1.1315}]},"mark":{"type":"text","fontSize":26,"align":"left","baseline":"alphabetic","color":"#5b2d96"},"encoding":{"text":{"field":"t"}}},
{"data":{"values":[{"t":")","m":0.4433,"r":-0.1155}]},"mark":{"type":"text","fontSize":47,"align":"left","baseline":"alphabetic","color":"#5b2d96"},"encoding":{"text":{"field":"t"}}},
{"data":{"values":[{"t":"h","m":0.4328,"r":-0.1268}]},"mark":{"type":"text","fontSize":30,"align":"left","baseline":"alphabetic","color":"#5b2d96"},"encoding":{"text":{"field":"t"}}},
{"data":{"values":[{"t":"hf","m":-0.0507,"r":0.9155}]},"mark":{"type":"text","fontSize":28,"angle":270,"align":"left","baseline":"alphabetic","color":"#222222"},"encoding":{"text":{"field":"t"}}},
{"data":{"values":[{"t":")","m":-0.0556,"r":0.9472}]},"mark":{"type":"text","fontSize":47,"angle":270,"align":"left","baseline":"alphabetic","color":"#222222"},"encoding":{"text":{"field":"t"}}},
{"data":{"values":[{"t":"β","m":0.4394,"r":1.2383}]},"mark":{"type":"text","font":"Liberation Serif","fontSize":84,"align":"left","baseline":"alphabetic","color":"#111111"},"encoding":{"text":{"field":"t"}}},
{"data":{"values":[{"t":"h","m":0.4659,"r":1.216}]},"mark":{"type":"text","font":"Liberation Serif","fontStyle":"italic","fontSize":48,"align":"left","baseline":"alphabetic","color":"#111111"},"encoding":{"text":{"field":"t"}}}
]}
